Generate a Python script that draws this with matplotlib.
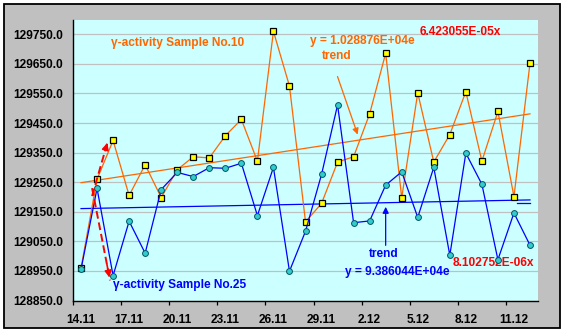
import numpy as np
import matplotlib
matplotlib.use("Agg")
import matplotlib.pyplot as plt
from matplotlib.patches import Rectangle

plt.rcParams.update({
    "font.family": ["Liberation Sans", "DejaVu Sans"],
    "font.weight": "bold",
    "font.size":   8.6,
})

ORANGE = "#FF6600"
BLUE   = "#0000FF"
RED    = "#FF0000"
GRID   = "#C0C0C0"

dates = ["14.11", "15.11", "16.11", "17.11", "18.11", "19.11", "20.11", "21.11",
         "22.11", "23.11", "24.11", "25.11", "26.11", "27.11", "28.11", "29.11",
         "30.11", "1.12", "2.12", "3.12", "4.12", "5.12", "6.12", "7.12",
         "8.12", "9.12", "10.12", "11.12", "12.12"]

sample10 = [128960, 129260, 129391, 129205, 129309, 129198, 129292, 129336,
            129332, 129407, 129462, 129321, 129760, 129575, 129116, 129178,
            129318, 129336, 129481, 129686, 129197, 129552, 129318, 129411,
            129556, 129321, 129489, 129201, 129652]
sample25 = [128955, 129229, 128934, 129118, 129010, 129225, 129283, 129269,
            129299, 129297, 129314, 129137, 129300, 128949, 129084, 129276,
            129511, 129113, 129119, 129240, 129285, 129131, 129300, 129003,
            129348, 129243, 128988, 129146, 129037]

# exponential trend coefficients as printed on the chart (x = Excel date serial)
first_serial = 39400
trend10 = (1.028876e+04, 6.423055e-05)
trend25 = (9.386044e+04, 8.102752e-06)

x = np.arange(len(dates))
serial = first_serial + x

fig = plt.figure(figsize=(5.69, 3.33), dpi=100, facecolor="white")
fig.patches.append(Rectangle((4/569, 5/333), 556/569, 324/333, transform=fig.transFigure,
                             facecolor="#C0C0C0", edgecolor="black", lw=1.3, zorder=-1))
ax = fig.add_axes([73/569, 1 - 300.5/333, 465/569, 281/333])
ax.set_facecolor("#CCFFFF")

ax.plot(x, sample10, color=ORANGE, lw=0.9, marker="s", ms=5, mfc="#FFFF00", mec="black",
        mew=0.9, zorder=3)
ax.plot(x, sample25, color=BLUE, lw=0.9, marker="o", ms=4.2, mfc="#33CCCC", mec="#005566",
        mew=0.7, zorder=4)
ax.plot(x, trend10[0] * np.exp(trend10[1] * serial), color=ORANGE, lw=0.9, zorder=2)
ax.plot(x, trend25[0] * np.exp(trend25[1] * serial), color=BLUE, lw=0.9, zorder=2)
ax.plot([27.2, 28.0], [129178, 129178], color=BLUE, lw=0.9, zorder=2)

ax.set_xlim(-0.5, 28.5)
ax.set_ylim(128850, 129800)
ax.set_yticks(np.arange(128850, 129800, 100))
ax.yaxis.set_major_formatter(matplotlib.ticker.FormatStrFormatter("%.1f"))
ax.grid(axis="y", color=GRID, lw=0.9)
ax.set_axisbelow(True)

ax.set_xticks(np.arange(-0.5, 27, 3))
ax.set_xticklabels([])
ax.set_xticks(x[::3], minor=True)
ax.set_xticklabels(dates[::3], minor=True)
ax.tick_params(axis="x", which="major", length=3, width=0.9, color="black")
ax.tick_params(axis="x", which="minor", length=0, pad=10)
ax.tick_params(axis="y", length=0, pad=7)

for side in ["top", "right"]:
    ax.spines[side].set_visible(False)
for side in ["left", "bottom"]:
    ax.spines[side].set_color("black")
    ax.spines[side].set_linewidth(1.0)

ax.text(1.875, 129720, "γ-activity Sample No.10", color=ORANGE, va="center")
ax.text(14.31, 129727, "y = 1.028876E+04e", color=ORANGE, va="center")
ax.text(21.1, 129758, "6.423055E-05x", color=RED, va="center")
ax.text(15.04, 129677, "trend", color=ORANGE, va="center")
ax.text(1.98, 128902, "γ-activity Sample No.25", color=BLUE, va="center")
ax.text(17.94, 129007, "trend", color=BLUE, va="center")
ax.text(16.44, 128946, "y = 9.386044E+04e", color=BLUE, va="center")
ax.text(23.19, 128977, "8.102752E-06x", color=RED, va="center")

# arrows
ax.annotate("", xy=(17.31, 129402), xytext=(15.94, 129616),
            arrowprops=dict(arrowstyle="-|>", color=ORANGE, lw=0.9, mutation_scale=9), zorder=5)
ax.annotate("", xy=(19.0, 129176), xytext=(19.0, 129027),
            arrowprops=dict(arrowstyle="-|>", color=BLUE, lw=0.9, mutation_scale=9), zorder=5)
for (x0, y0), (x1, y1) in [((0.69, 129203), (1.69, 129392)), ((0.69, 129230), (1.81, 128918))]:
    ax.plot([x0, x1], [y0, y1], color=RED, lw=1.4, ls=(0, (4, 2)), zorder=6)
    ax.annotate("", xy=(x1, y1), xytext=(x0 + 0.8 * (x1 - x0), y0 + 0.8 * (y1 - y0)),
                arrowprops=dict(arrowstyle="-|>", color=RED, lw=1.2, mutation_scale=10), zorder=6)

fig.savefig("out.png", dpi=100, facecolor=fig.get_facecolor())
